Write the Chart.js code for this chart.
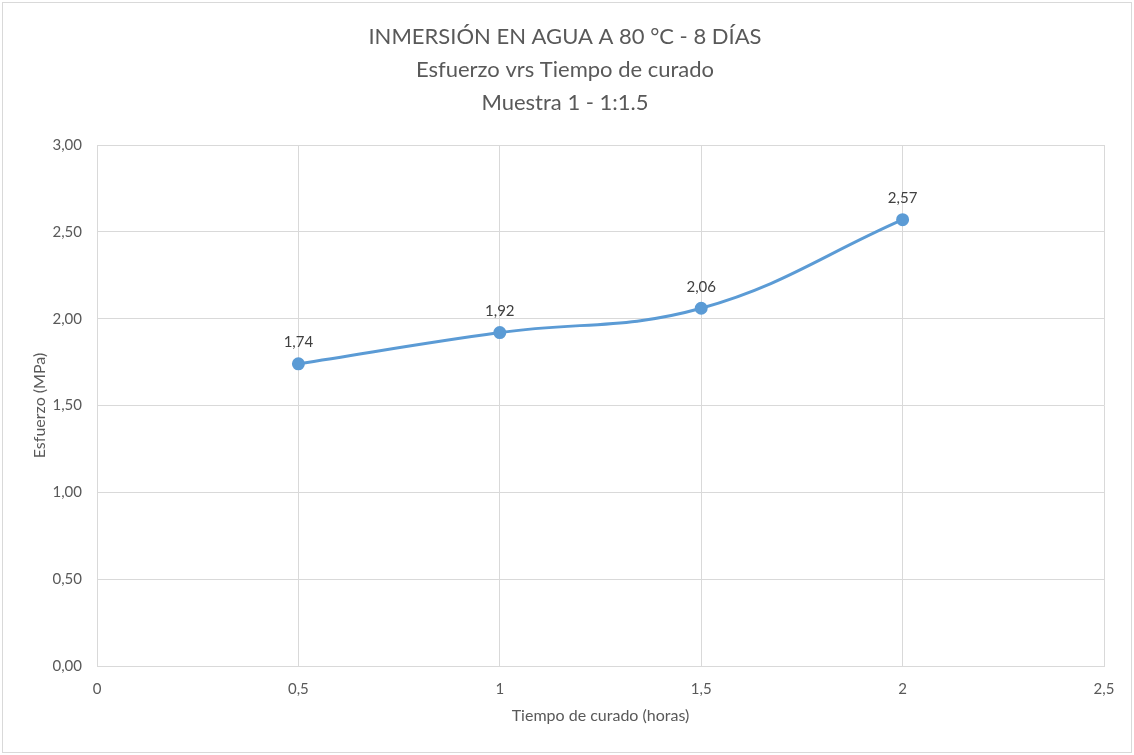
<!DOCTYPE html>
<html>
<head>
<meta charset="utf-8">
<script src="https://cdn.jsdelivr.net/npm/chart.js@4.4.1/dist/chart.umd.min.js"></script>
<style>
  html, body { margin: 0; padding: 0; background: #fff; }
  #wrap { width: 1134px; height: 755px; }
</style>
</head>
<body>
<div id="wrap"><canvas id="c" width="1134" height="755"></canvas></div>
<script>
const titleLines = ['INMERSIÓN EN AGUA A 80 °C - 8 DÍAS', 'Esfuerzo vrs Tiempo de curado', 'Muestra 1 - 1:1.5'];
const curingHours = [0.5, 1, 1.5, 2];
const stressMPa = [1.74, 1.92, 2.06, 2.57];
const xTitle = 'Tiempo de curado (horas)';
const yTitle = 'Esfuerzo (MPa)';

const FONT = 'Lato, "Open Sans", sans-serif';
const TEXT = '#595959';
const GRID = '#d9d9d9';
const comma = s => String(s).replace('.', ',');

// white background + thin frame like the spreadsheet chart area
const frame = {
  id: 'frame',
  beforeDraw(chart) {
    const ctx = chart.ctx;
    ctx.save();
    ctx.fillStyle = '#fff';
    ctx.fillRect(0, 0, chart.width, chart.height);
    ctx.strokeStyle = GRID;
    ctx.lineWidth = 1;
    ctx.strokeRect(2.5, 2.5, chart.width - 5, chart.height - 5);
    ctx.restore();
  }
};

// value labels above each point
const pointLabels = {
  id: 'pointLabels',
  afterDatasetsDraw(chart) {
    const ctx = chart.ctx;
    const meta = chart.getDatasetMeta(0);
    ctx.save();
    ctx.font = '15px ' + FONT;
    ctx.fillStyle = '#404040';
    ctx.textAlign = 'center';
    ctx.textBaseline = 'bottom';
    meta.data.forEach((pt, i) => {
      ctx.fillText(stressMPa[i].toFixed(2).replace('.', ','), pt.x, pt.y - 14);
    });
    ctx.restore();
  }
};

new Chart(document.getElementById('c'), {
  type: 'line',
  data: {
    datasets: [{
      data: curingHours.map((h, i) => ({ x: h, y: stressMPa[i] })),
      borderColor: '#5b9bd5',
      backgroundColor: '#5b9bd5',
      borderWidth: 3,
      pointRadius: 5,
      pointHoverRadius: 5,
      pointBackgroundColor: '#5b9bd5',
      pointBorderColor: '#5b9bd5',
      tension: 0.4
    }]
  },
  options: {
    responsive: false,
    animation: false,
    layout: { padding: { left: 26, right: 30, top: 0, bottom: 26 } },
    plugins: {
      legend: { display: false },
      tooltip: { enabled: false },
      title: {
        display: true,
        text: titleLines,
        color: TEXT,
        font: { family: FONT, size: 22, weight: 'normal', lineHeight: 1.5 },
        padding: { top: 20, bottom: 26 }
      }
    },
    scales: {
      x: {
        type: 'linear',
        min: 0,
        max: 2.5,
        afterFit: s => { s.height = 63; },
        ticks: {
          stepSize: 0.5,
          color: TEXT,
          padding: 14,
          font: { family: FONT, size: 15 },
          callback: v => comma(v)
        },
        grid: { color: GRID, drawTicks: false },
        border: { color: GRID },
        title: {
          display: true,
          text: xTitle,
          color: TEXT,
          font: { family: FONT, size: 16 },
          padding: { top: 12 }
        }
      },
      y: {
        min: 0,
        max: 3,
        afterFit: s => { s.width = 71; },
        ticks: {
          stepSize: 0.5,
          color: TEXT,
          padding: 15,
          font: { family: FONT, size: 15 },
          callback: v => v.toFixed(2).replace('.', ',')
        },
        grid: { color: GRID, drawTicks: false },
        border: { color: GRID },
        title: {
          display: true,
          text: yTitle,
          color: TEXT,
          font: { family: FONT, size: 16 },
          padding: { bottom: 0 }
        }
      }
    }
  },
  plugins: [frame, pointLabels]
});
</script>
</body>
</html>
